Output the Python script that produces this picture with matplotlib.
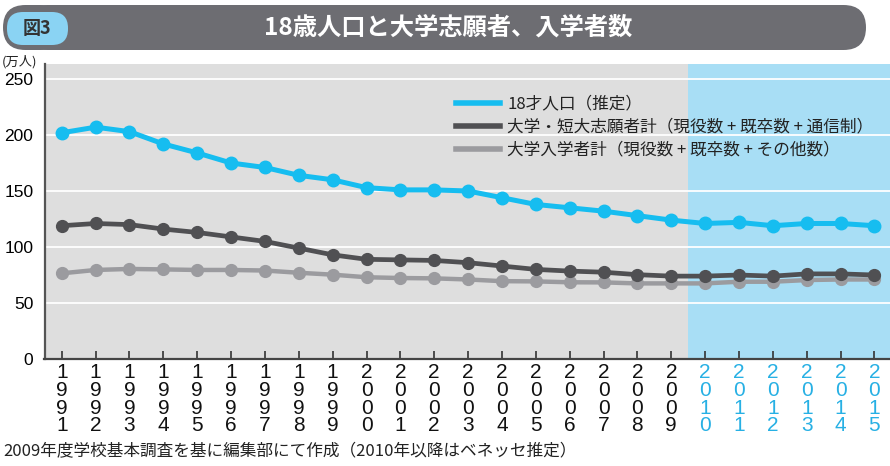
import numpy as np
import matplotlib as mpl
mpl.use("Agg")
import matplotlib.pyplot as plt
from matplotlib.patches import FancyBboxPatch
from matplotlib.lines import Line2D

plt.rcParams['font.family'] = ['Noto Sans CJK JP', 'DejaVu Sans']

years = list(range(1991, 2016))
pop18 = [202, 207, 203, 192, 184, 175, 171, 164, 160, 153, 151, 151, 150, 144,
         138, 135, 132, 128, 124, 121, 122, 119, 121, 121, 119]
applicants = [119, 121, 120, 116, 113, 109, 105, 99, 93, 89, 88.5, 88, 86, 83,
              80, 78.5, 77.5, 75.3, 74, 74, 75, 74, 76, 76, 75]
enrolled = [76.5, 79.5, 80.4, 80, 79.5, 79.5, 79, 77, 75.3, 73, 72.3, 72, 71, 69.5,
            69.3, 68.5, 68.4, 67.5, 67.5, 67.5, 69, 69, 70.5, 71, 71]
yticks = [0, 50, 100, 150, 200, 250]
est_from = 2010

labels = ["18才人口（推定）",
          "大学・短大志願者計（現役数 + 既卒数 + 通信制）",
          "大学入学者計（現役数 + 既卒数 + その他数）"]
title = "18歳人口と大学志願者、入学者数"
fig_no = "図3"
unit = "(万人)"
note = "2009年度学校基本調査を基に編集部にて作成（2010年以降はベネッセ推定）"

c_pop = "#16bdf0"
c_app = "#505053"
c_enr = "#9b9b9f"
c_blue_txt = "#27b0e4"

W, H = 890, 466
fig = plt.figure(figsize=(W / 100, H / 100), dpi=100)

# header drawn in pixel coords
bg = fig.add_axes([0, 0, 1, 1])
bg.set_xlim(0, W)
bg.set_ylim(H, 0)
bg.set_axis_off()
bg.add_patch(FancyBboxPatch((3 + 22, 5), 885 - 44, 45,
                            boxstyle="round,pad=0,rounding_size=22.5",
                            fc="#6d6d72", ec="none"))
bg.add_patch(FancyBboxPatch((3, 5), 60, 45, boxstyle="round,pad=0,rounding_size=22.5",
                            fc="#6d6d72", ec="none"))
bg.add_patch(FancyBboxPatch((7, 12), 61, 33, boxstyle="round,pad=0,rounding_size=16",
                            fc="#8ad3f3", ec="none"))
bg.text(37, 28.5, fig_no, ha="center", va="center", fontsize=13, fontweight="bold",
        color="#333333")
bg.text(448, 27.5, title, ha="center", va="center", fontsize=17.5, fontweight="bold",
        color="white")
bg.text(2, 62, unit, ha="left", va="center", fontsize=9.5, color="#222222")
bg.text(3, 452, note, ha="left", va="center", fontsize=12, color="#222222")

ax = fig.add_axes([44.5 / W, (H - 359) / H, (W - 44.5) / W, (359 - 64) / H])
ax.set_facecolor("#dedede")
x0, x1 = 1990.49, 2015.46
ax.set_xlim(x0, x1)
ax.set_ylim(0, 263.4)
ax.axvspan(est_from - 0.5, x1, color="#a8def5", zorder=1, lw=0)

ax.set_axisbelow('line')
ax.set_yticks(yticks)
ax.yaxis.grid(True, color="white", lw=1.3)
ax.tick_params(axis="y", length=0, pad=8, labelsize=12.5)
for t in ax.get_yticklabels():
    t.set_family(['Liberation Sans Narrow', 'Liberation Sans', 'DejaVu Sans'])
ax.set_xticks(years)
ax.set_xticklabels([])
ax.tick_params(axis="x", direction="in", length=6, width=1.2, color="#333333")

for s in ["top", "right"]:
    ax.spines[s].set_visible(False)
ax.spines["left"].set_color("#555555")
ax.spines["left"].set_linewidth(1.6)
ax.spines["bottom"].set_color("#444444")
ax.spines["bottom"].set_linewidth(1.6)

ax.plot(years, enrolled, color=c_enr, lw=3.2, marker="o", ms=8.5, zorder=3)
ax.plot(years, applicants, color=c_app, lw=3.4, marker="o", ms=8.5, zorder=4)
ax.plot(years, pop18, color=c_pop, lw=3.6, marker="o", ms=9, zorder=5)

# vertical year labels, one digit per line (tightly stacked as in the original)
offsets = [14, 31.5, 49, 66.5]
for yr in years:
    col = c_blue_txt if yr >= est_from else "#111111"
    for d, off in zip(str(yr), offsets):
        ax.annotate(d, xy=(yr, 0), xycoords=("data", "axes fraction"),
                    xytext=(0, -off), textcoords="offset pixels",
                    ha="center", va="center", fontsize=15, color=col,
                    family=['Liberation Sans', 'DejaVu Sans'], annotation_clip=False)

handles = [Line2D([], [], color=c_pop, lw=4),
           Line2D([], [], color=c_app, lw=4),
           Line2D([], [], color=c_enr, lw=4)]
leg = ax.legend(handles, labels, loc="upper left", bbox_to_anchor=(0.487, 0.893),
                frameon=False, fontsize=12, handlelength=2.6, handletextpad=0.45,
                labelspacing=0.36, borderpad=0, borderaxespad=0)
for t in leg.get_texts():
    t.set_color("#222222")

fig.savefig("out.png", dpi=100)
